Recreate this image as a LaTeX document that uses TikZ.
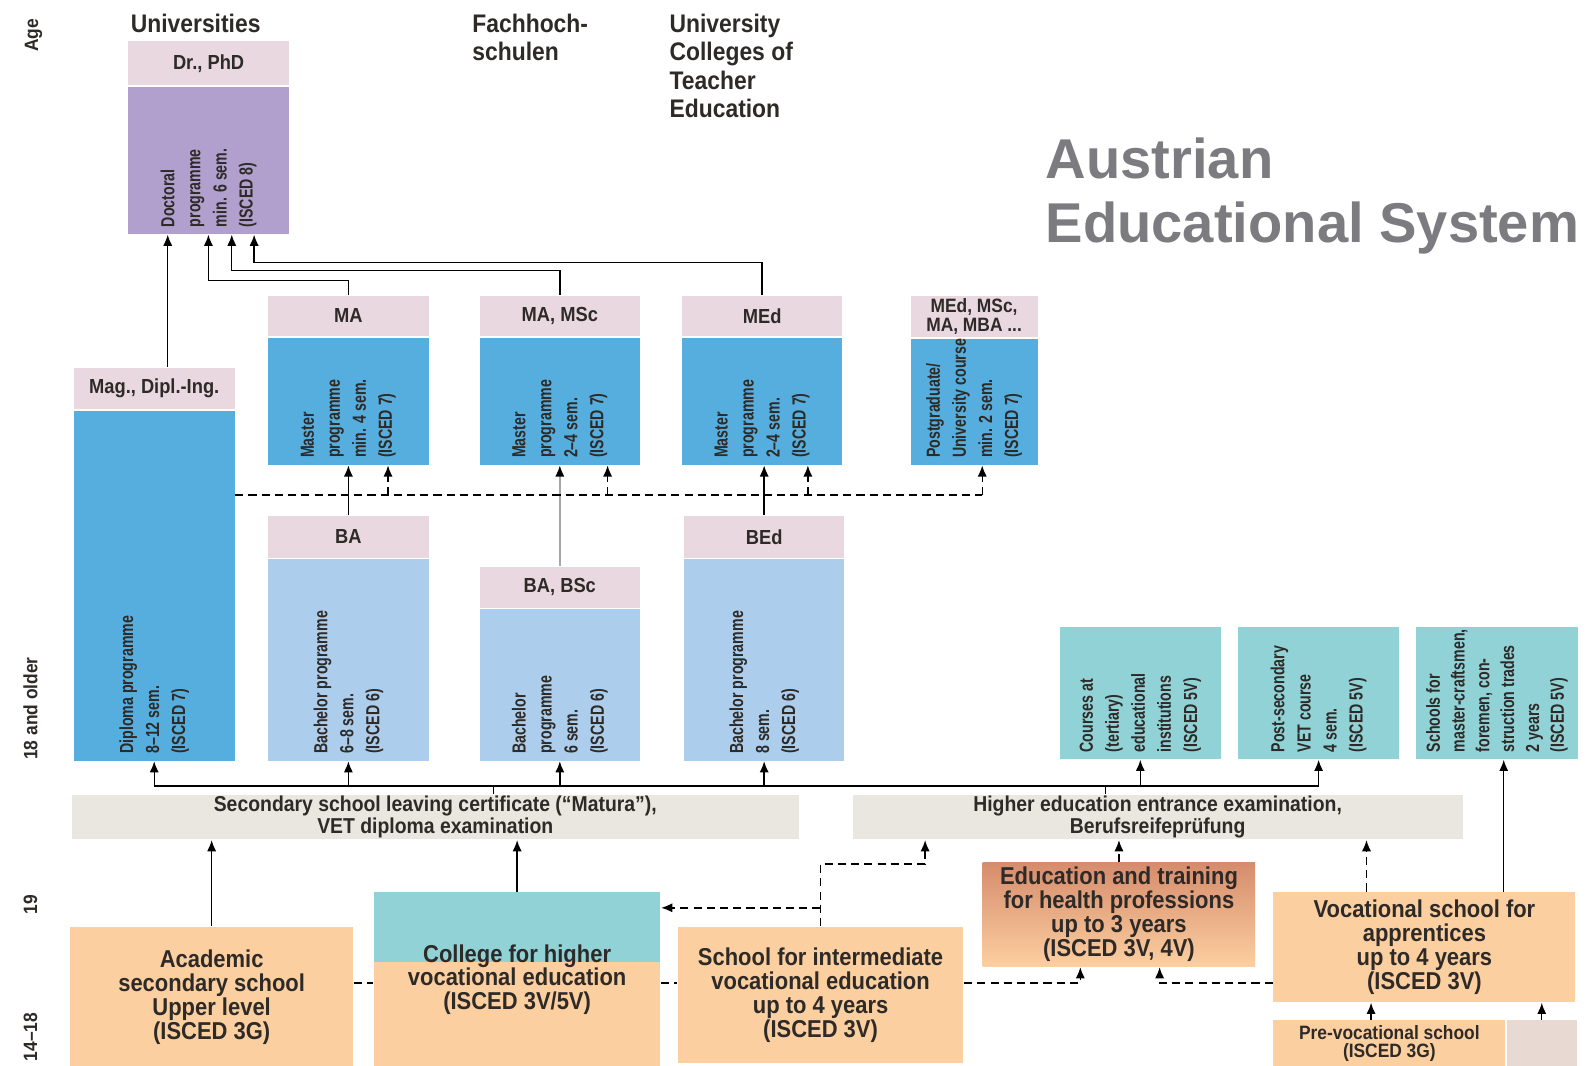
\documentclass[tikz,border=0pt]{standalone}
\usepackage{fontspec}
\setmainfont{Liberation Sans}[FakeStretch=0.9]
\newfontfamily\narrowfont{Liberation Sans}[FakeStretch=0.75]
\newfontfamily\titlefont{Liberation Sans}
\usetikzlibrary{arrows.meta, positioning, calc}

\definecolor{pinkhdr}{RGB}{234,216,224}
\definecolor{purplebody}{RGB}{177,160,205}
\definecolor{bluedark}{RGB}{86,174,222}
\definecolor{bluelight}{RGB}{172,206,236}
\definecolor{tealc}{RGB}{145,210,214}
\definecolor{orangec}{RGB}{252,207,160}
\definecolor{healthtop}{RGB}{214,140,108}
\definecolor{barc}{RGB}{233,231,224}
\definecolor{pinkgray}{RGB}{232,218,210}
\definecolor{textdark}{RGB}{45,42,40}
\definecolor{titlegray}{RGB}{124,124,128}

\begin{document}
\begin{tikzpicture}[x=0.5pt, y=-0.5pt,
    >={Latex[length=5.5pt, width=4.5pt]}, line width=0.7pt,
    hdr/.style={fill=pinkhdr, text=textdark, minimum width=79pt, minimum height=20.5pt,
      inner sep=1pt, align=center, font=\bfseries\fontsize{10}{9.5}\selectfont},
    prog/.style={minimum width=79pt, inner sep=0pt},
    vtext/.style={rotate=90, anchor=west, align=left, text=textdark,
      font=\narrowfont\bfseries\fontsize{9.3}{12.8}\selectfont},
    sec/.style={fill=orangec, text=textdark, inner sep=0pt, align=center,
      font=\bfseries\fontsize{12}{11.8}\selectfont},
    bar/.style={fill=barc, text=textdark, minimum height=22pt, inner sep=0pt,
      align=center, font=\bfseries\fontsize{10.6}{9.6}\selectfont},
    colhead/.style={anchor=north west, inner sep=0pt, align=left, text=textdark,
      font=\bfseries\fontsize{12.5}{14}\selectfont},
    side/.style={rotate=90, inner sep=0pt, text=textdark,
      font=\bfseries\fontsize{9.5}{10}\selectfont},
    dsh/.style={dash pattern=on 4pt off 2.5pt}
    ]
    \useasboundingbox (0,0) rectangle (1568,1048);
    \fill[white] (0,0) rectangle (1568,1048);

    % column heads and title
    \node[colhead] (uni) at (128,13) {Universities};
    \node[colhead] (fh) at (464,13) {Fachhoch-\\schulen};
    \node[colhead] (pc) at (658,13) {University\\Colleges of\\Teacher\\Education};
    \node[anchor=north west, inner sep=0pt, align=left, text=titlegray,
      font=\titlefont\bfseries\fontsize{27.6}{31.5}\selectfont] (title) at (1028,135)
      {Austrian\\Educational System};

    % age
    \node[side] (age) at (33,35) {Age};
    \node[side] (a18) at (30,697) {18 and older};
    \node[side] (a19) at (30,890) {19};
    \node[side] (a14) at (30,1020) {14–18};

    % doctoral programme
    \node[hdr, minimum width=79.5pt, minimum height=21.5pt, anchor=north west] (doch) at (125,40) {Dr., PhD};
    \node[prog, fill=purplebody, minimum width=79.5pt, minimum height=72.5pt, below=0pt of doch] (doc) {};
    \node[vtext] at (doc.south) {Doctoral\\programme\\min. 6 sem.\\(ISCED 8)};

    % diploma programme
    \node[hdr, anchor=north west] (magh) at (72,361) {Mag., Dipl.-Ing.};
    \node[prog, fill=bluedark, minimum height=172pt, below=0pt of magh] (mag) {};
    \node[vtext] at (mag.south) {Diploma programme\\8–12 sem.\\(ISCED 7)};

    % master programmes
    \node[hdr, minimum height=20pt, anchor=north west] (mah) at (263,290) {MA};
    \node[prog, fill=bluedark, minimum height=62.5pt, below=0pt of mah] (ma) {};
    \node[vtext] at (ma.south) {Master\\programme\\min. 4 sem.\\(ISCED 7)};
    \node[hdr, minimum height=20pt, anchor=north west] (msch) at (471,290) {MA, MSc};
    \node[prog, fill=bluedark, minimum height=62.5pt, below=0pt of msch] (msc) {};
    \node[vtext] at (msc.south) {Master\\programme\\2–4 sem.\\(ISCED 7)};
    \node[hdr, minimum height=20pt, anchor=north west] (medh) at (670,290) {MEd};
    \node[prog, fill=bluedark, minimum height=62.5pt, below=0pt of medh] (med) {};
    \node[vtext] at (med.south) {Master\\programme\\2–4 sem.\\(ISCED 7)};
    \node[hdr, minimum width=62.5pt, minimum height=20.5pt, anchor=north west,
      font=\bfseries\fontsize{9.5}{9.5}\selectfont] (posth) at (895,290) {MEd, MSc,\\MA, MBA ...};
    \node[prog, fill=bluedark, minimum width=62.5pt, minimum height=62pt, below=0pt of posth] (post) {};
    \node[vtext] at (post.south) {Postgraduate/\\University course\\min. 2 sem.\\(ISCED 7)};

    % bachelor programmes
    \node[hdr, anchor=north west] (bah) at (263,507) {BA};
    \node[prog, fill=bluelight, minimum height=99pt, below=0pt of bah] (ba) {};
    \node[vtext] at (ba.south) {Bachelor programme\\6–8 sem.\\(ISCED 6)};
    \node[hdr, minimum height=20pt, anchor=north west] (bsch) at (471,557) {BA, BSc};
    \node[prog, fill=bluelight, minimum height=74.5pt, below=0pt of bsch] (bsc) {};
    \node[vtext] at (bsc.south) {Bachelor\\programme\\6 sem.\\(ISCED 6)};
    \node[hdr, anchor=north west] (bedh) at (672,507) {BEd};
    \node[prog, fill=bluelight, minimum height=99pt, below=0pt of bedh] (bed) {};
    \node[vtext] at (bed.south) {Bachelor programme\\8 sem.\\(ISCED 6)};

    % post-secondary VET
    \node[prog, fill=tealc, minimum height=65pt, anchor=north west] (t1) at (1042,616) {};
    \node[vtext] at (t1.south) {Courses at\\(tertiary)\\educational\\institutions\\(ISCED 5V)};
    \node[prog, fill=tealc, minimum height=65pt, right=8pt of t1] (t2) {};
    \node[vtext] at (t2.south) {Post-secondary\\VET course\\4 sem.\\(ISCED 5V)};
    \node[prog, fill=tealc, minimum height=65pt, minimum width=80pt, right=7.5pt of t2] (t3) {};
    \node[vtext, font=\narrowfont\bfseries\fontsize{9.3}{12.2}\selectfont] at (t3.south)
      {Schools for\\master-craftsmen,\\foremen, con-\\struction trades\\2 years\\(ISCED 5V)};

    % examinations
    \node[bar, minimum width=357.5pt, anchor=north west] (matura) at (70,781)
      {Secondary school leaving certificate (“Matura”),\\VET diploma examination};
    \node[bar, minimum width=300pt, anchor=north west] (higher) at (838,781)
      {Higher education entrance examination,\\Berufsreifeprüfung};

    % upper secondary schools
    \node[sec, minimum width=139.5pt, minimum height=69pt, anchor=north west] (acad) at (68,911)
      {Academic\\secondary school\\Upper level\\(ISCED 3G)};
    \node[sec, minimum width=141pt, minimum height=86pt, anchor=north west,
      path picture={\fill[tealc] (path picture bounding box.north west) rectangle
        ([yshift=-34.5pt]path picture bounding box.north east);}] (coll) at (367,877)
      {College for higher\\vocational education\\(ISCED 3V/5V)};
    \node[sec, minimum width=140.5pt, minimum height=67pt, anchor=north west] (school) at (666,911)
      {School for intermediate\\vocational education\\up to 4 years\\(ISCED 3V)};
    \node[sec, minimum width=134pt, minimum height=51pt, anchor=north west,
      top color=healthtop, middle color=orangec, bottom color=orangec] (health) at (966,848)
      {Education and training\\for health professions\\up to 3 years\\(ISCED 3V, 4V)};
    \node[sec, minimum width=148.5pt, minimum height=54pt, anchor=north west] (voc) at (1252,877)
      {Vocational school for\\apprentices\\up to 4 years\\(ISCED 3V)};
    \node[sec, minimum width=114pt, minimum height=23pt, anchor=north west,
      font=\bfseries\fontsize{9.5}{8.8}\selectfont] (prev) at (1252,1003)
      {Pre-vocational school\\(ISCED 3G)};
    \node[prog, fill=pinkgray, minimum width=34.5pt, minimum height=23pt, right=0pt of prev] (pk) {};

    % to doctoral programme
    \coordinate (d1) at ($(doc.south west)+(40,0)$);
    \coordinate (d2) at ($(doc.south west)+(80,0)$);
    \coordinate (d3) at ($(doc.south west)+(103,0)$);
    \coordinate (d4) at ($(doc.south west)+(125,0)$);
    \draw[->] (magh.north -| d1) -- (d1);
    \draw[->] (mah.north) -- ++(0,-14) -| (d2);
    \draw[->] (msch.north) -- ++(0,-24) -| (d3);
    \draw[->] (medh.north) -- ++(0,-32) -| (d4);

    % bachelor to master
    \draw[->] (bah.north) -- (ma.south);
    \draw[-{Latex[length=5.5pt, width=4.5pt, color=black]}, gray!70] (bsch.north) -- (msc.south);
    \draw[->] (bedh.north) -- (bedh.north |- med.south);

    % further master programmes
    \coordinate (dy) at (0,487);
    \coordinate (s1) at ($(ma.south)+(39,0)$);
    \coordinate (s2) at ($(msc.south)+(47,0)$);
    \coordinate (s3) at ($(med.south)+(45,0)$);
    \coordinate (s4) at ($(post.south)+(8,0)$);
    \draw[dsh] (mag.east |- dy) -- (s4 |- dy);
    \foreach \s in {s1,s2,s3,s4}
      \draw[dsh,->] (\s |- dy) -- (\s);

    % access to tertiary education
    \coordinate (bus) at (0,773);
    \coordinate (m1) at ($(matura.north)+(57,0)$);
    \coordinate (h1) at ($(higher.north)+(-51,0)$);
    \draw (mag.south |- bus) -- (t2.south |- bus);
    \draw (m1) -- (m1 |- bus);
    \draw (h1) -- (h1 |- bus);
    \foreach \n in {mag, ba, bsc, bed, t1, t2}
      \draw[->] (\n.south |- bus) -- (\n.south);

    % schools to examinations
    \coordinate (yA) at (0,893);
    \coordinate (yB) at (0,967);
    \coordinate (hb) at ($(higher.south west)+(72,0)$);
    \coordinate (v1) at ($(voc.north)+(78,0)$);
    \coordinate (v2) at ($(voc.north)+(-57,0)$);
    \draw[->] (acad.north) -- (acad.north |- matura.south);
    \draw[->] (coll.north) -- (coll.north |- matura.south);
    \draw[dsh,->] (school.north) -- ++(0,-61) -| (hb);
    \draw[dsh,->] (school.north |- yA) -- (coll.east |- yA);
    \draw[dsh,->] (health.north) -- (health.north |- higher.south);
    \draw[dsh,->] (v2) -- (v2 |- higher.south);
    \draw[->] (v1) -- (v1 |- t3.south);

    % transfers between schools
    \coordinate (hl) at ($(health.south)+(-38,0)$);
    \coordinate (hr) at ($(health.south)+(40,0)$);
    \draw[dsh] (acad.east |- yB) -- (coll.west |- yB);
    \draw[dsh] (coll.east |- yB) -- (school.west |- yB);
    \draw[dsh,->] (school.east |- yB) -| (hl);
    \draw[dsh,->] (voc.west |- yB) -| (hr);

    % pre-vocational school
    \coordinate (p1) at ($(prev.north)+(-18,0)$);
    \draw[->] (p1) -- (p1 |- voc.south);
    \draw[->] (pk.north) -- (pk.north |- voc.south);
\end{tikzpicture}
\end{document}
